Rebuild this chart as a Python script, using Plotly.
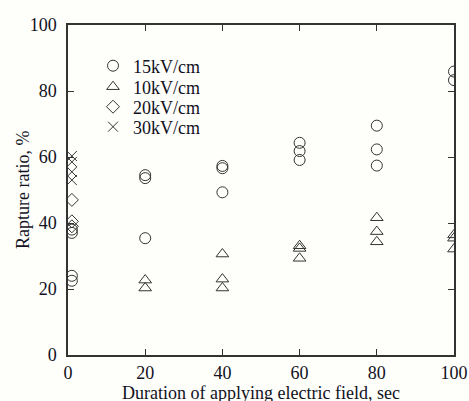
import plotly.graph_objects as go

# ---- data ----
x15 = [1, 1, 1, 1, 20, 20, 20, 40, 40, 40, 60, 60, 60, 80, 80, 80, 100, 100]
y15 = [38, 37, 24, 22.5, 54.5, 53.6, 35.4, 57.3, 56.6, 49.3, 64.3, 61.8, 59.1, 69.5, 62.3, 57.4, 85.9, 83.3]

x10 = [20, 20, 40, 40, 40, 60, 60, 60, 80, 80, 80, 100, 100, 100]
y10 = [22.7, 20.3, 30.6, 23.0, 20.3, 33.1, 32.3, 29.3, 41.6, 37.4, 34.3, 36.4, 35.4, 32.1]

x20 = [1, 1, 1]
y20 = [47, 40.5, 39]

x30 = [1, 1, 1, 1]
y30 = [60.3, 58.5, 55.5, 53]

series_names = ["15kV/cm", "10kV/cm", "20kV/cm", "30kV/cm"]
xticks = [0, 20, 40, 60, 80, 100]
yticks = [0, 20, 40, 60, 80, 100]
x_title = "Duration of applying electric field, sec"
y_title = "Rapture ratio, %"

FONT = "Liberation Serif, Times New Roman, serif"
INK = "#333333"
TXT = "#111122"
BG = "#fefefb"

fig = go.Figure()
specs = [
    (x15, y15, "circle-open", 11, "legend"),
    (x10, y10, "triangle-up-open", 11, "legend2"),
    (x20, y20, "diamond-open", 10, "legend3"),
    (x30, y30, "x-thin-open", 10, "legend4"),
]
for (xs, ys, sym, sz, lg), name in zip(specs, series_names):
    fig.add_trace(go.Scatter(
        x=xs, y=ys, mode="markers", name=name, legend=lg,
        marker=dict(symbol=sym, size=sz, color=INK, line=dict(color=INK, width=1)),
    ))

W, H = 469, 401
ml, mr, mt, mb = 68, 15, 25, 46
ph = H - mt - mb

def leg(ypix):
    return dict(
        x=(113 - 20 - ml) / (W - ml - mr), xanchor="left",
        y=(H - mb - ypix) / ph, yanchor="middle",
        bgcolor="rgba(0,0,0,0)", borderwidth=0,
        font=dict(family=FONT, size=18, color=TXT),
    )

fig.update_layout(
    width=W, height=H,
    margin=dict(l=ml, r=mr, t=mt, b=mb, pad=0),
    paper_bgcolor=BG, plot_bgcolor=BG,
    font=dict(family=FONT, size=18, color=TXT),
    showlegend=True,
    legend=leg(66), legend2=leg(87), legend3=leg(107), legend4=leg(127),
    xaxis=dict(
        range=[0, 100], tickvals=xticks, ticks="inside", ticklen=6,
        tickcolor=INK, showline=True, linecolor=INK, linewidth=1.5,
        mirror="allticks", showgrid=False, zeroline=False,
        automargin=False, ticklabelstandoff=1,
    ),
    yaxis=dict(
        range=[0, 100], tickvals=yticks, ticks="inside", ticklen=6,
        tickcolor=INK, showline=True, linecolor=INK, linewidth=1.5,
        mirror="allticks", showgrid=False, zeroline=False,
        automargin=False, ticklabelstandoff=6,
    ),
    annotations=[
        dict(text=x_title, xref="paper", yref="paper", x=0.5, y=0,
             xanchor="center", yanchor="middle", yshift=-38, showarrow=False,
             font=dict(family=FONT, size=18, color=TXT)),
        dict(text=y_title, xref="paper", yref="paper", x=0, y=0.5,
             xanchor="center", yanchor="middle", xshift=-45, textangle=-90,
             showarrow=False, font=dict(family=FONT, size=18, color=TXT)),
    ],
)

fig.write_html("out.html")
